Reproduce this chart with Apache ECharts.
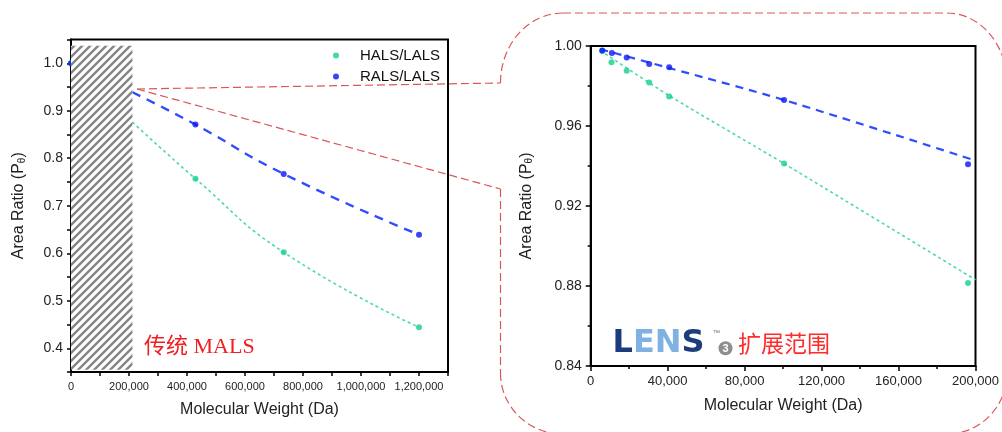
<!DOCTYPE html>
<html><head><meta charset="utf-8">
<script src="https://cdn.jsdelivr.net/npm/echarts@6/dist/echarts.min.js"></script>
<style>html,body{margin:0;padding:0;background:#fff}#c{width:1002px;height:432px}</style>
</head><body><div id="c"></div>
<script>
// ---------- data ----------
const seriesNames = ['HALS/LALS', 'RALS/LALS'];
const mainHals = [[0, 1.0], [429000, 0.757], [733600, 0.602], [1200000, 0.444]];
const mainRals = [[0, 1.0], [429000, 0.871], [733600, 0.767], [1200000, 0.639]];
const mainHalsFit = [[212000, 0.876], [429000, 0.757], [733600, 0.602], [1200000, 0.444]];
const mainRalsFit = [[212000, 0.939], [429000, 0.871], [733600, 0.767], [1200000, 0.639]];
const hatchRange = [[0, 0.355], [212000, 1.037]];
const zoomHals = [[6000, 0.9975], [10800, 0.9919], [18700, 0.9876], [30400, 0.9817], [40800, 0.9748], [100500, 0.9412], [196100, 0.8815]];
const zoomRals = [[6000, 0.9977], [11000, 0.9965], [18700, 0.9942], [30400, 0.9910], [40800, 0.9894], [100500, 0.9730], [196100, 0.9409]];
const zoomHalsFit = [[5000, 0.9978], [40800, 0.9752], [100500, 0.9412], [200000, 0.8831]];
const zoomRalsFit = [[5000, 0.9984], [40800, 0.9890], [100500, 0.9730], [200000, 0.9427]];
const xTitle = 'Molecular Weight (Da)';
const yTitle = 'Area Ratio (P{s|θ})';
const annoMain = '传统 MALS';
const annoZoom = '扩展范围';

// ---------- styling ----------
const GREEN = '#14cf8c', GREEN_LINE = '#4cdba6';
const BLUE = '#0a16f5', BLUE_LINE = '#2f4dff';
const RED = '#d9575a';
const TXT = '#222';
const FONT = '"Liberation Sans", Arial, sans-serif';

function makeHatch() {
  const s = 8;
  const c = document.createElement('canvas');
  c.width = s; c.height = s;
  const g = c.getContext('2d');
  g.fillStyle = '#ffffff'; g.fillRect(0, 0, s, s);
  g.strokeStyle = '#858585'; g.lineWidth = 2.4;
  g.beginPath();
  for (const k of [0, s, 2 * s]) { g.moveTo(k - s - 2, s + 2); g.lineTo(k + 2, -2); }
  g.stroke();
  return c;
}
const hatch = makeHatch();

const fmtNum = v => Math.round(v).toLocaleString('en-US');
const axisLineStyle = { color: '#000', width: 2 };
const yNameStyle = { fontSize: 16, color: TXT, fontFamily: FONT,
  rich: { s: { fontSize: 10, color: TXT, fontFamily: FONT, verticalAlign: 'bottom', padding: [7, 0, 0, 0] } } };

const chart = echarts.init(document.getElementById('c'), null, { renderer: 'canvas' });
const option = {
  animation: false,
  backgroundColor: '#fff',
  textStyle: { fontFamily: FONT },
  grid: [
    { left: 71, top: 39.5, width: 377, height: 332.5, show: true, borderColor: '#000', borderWidth: 2, backgroundColor: 'transparent' },
    { left: 590.7, top: 46, width: 388.6, height: 320, show: true, borderColor: '#000', borderWidth: 2, backgroundColor: 'transparent' }
  ],
  xAxis: [
    { gridIndex: 0, type: 'value', min: 0, max: 1300000, interval: 100000,
      axisLine: { lineStyle: axisLineStyle }, axisTick: { length: 4, lineStyle: { color: '#000', width: 1.5 } },
      splitLine: { show: false },
      axisLabel: { margin: 9, fontSize: 11, color: TXT, fontFamily: '"Liberation Sans Narrow", "Liberation Sans", Arial',
        formatter: v => (v % 200000 === 0 && v <= 1200000) ? fmtNum(v) : '' },
      name: xTitle, nameLocation: 'middle', nameGap: 30, nameTextStyle: { fontSize: 16, color: TXT } },
    { gridIndex: 1, type: 'value', min: 0, max: 200000, interval: 40000,
      axisLine: { lineStyle: axisLineStyle }, axisTick: { length: 5, lineStyle: { color: '#000', width: 1.5 } },
      minorTick: { show: true, splitNumber: 2, length: 3, lineStyle: { color: '#000', width: 1.5 } },
      splitLine: { show: false },
      axisLabel: { margin: 9, fontSize: 13, color: TXT, formatter: v => fmtNum(v) },
      name: xTitle, nameLocation: 'middle', nameGap: 32, nameTextStyle: { fontSize: 16, color: TXT } }
  ],
  yAxis: [
    { gridIndex: 0, type: 'value', min: 0.35, max: 1.05, interval: 0.05,
      axisLine: { lineStyle: axisLineStyle }, axisTick: { length: 4, lineStyle: { color: '#000', width: 1.5 } },
      splitLine: { show: false },
      axisLabel: { margin: 8, fontSize: 14, color: TXT,
        formatter: v => { const t = Math.round(v * 100); return (t % 10 === 0) ? (t / 100).toFixed(1) : ''; } },
      name: yTitle, nameLocation: 'middle', nameRotate: 90, nameGap: 44, nameTextStyle: yNameStyle },
    { gridIndex: 1, type: 'value', min: 0.84, max: 1.0, interval: 0.04,
      axisLine: { lineStyle: axisLineStyle }, axisTick: { length: 5, lineStyle: { color: '#000', width: 1.5 } },
      minorTick: { show: true, splitNumber: 2, length: 3, lineStyle: { color: '#000', width: 1.5 } },
      splitLine: { show: false },
      axisLabel: { margin: 9, fontSize: 14, color: TXT, formatter: v => v.toFixed(2) },
      name: yTitle, nameLocation: 'middle', nameRotate: 90, nameGap: 56, nameTextStyle: yNameStyle }
  ],
  legend: {
    data: [{ name: seriesNames[0], icon: 'circle' }, { name: seriesNames[1], icon: 'circle' }],
    orient: 'vertical', left: 328, top: 43, itemWidth: 20, itemHeight: 6, itemGap: 6,
    textStyle: { fontSize: 15, color: '#111', padding: [0, 0, 0, 9] }
  },
  series: [
    { name: 'fitH0', type: 'line', xAxisIndex: 0, yAxisIndex: 0, data: mainHalsFit, smooth: 0.5, symbol: 'none',
      lineStyle: { color: GREEN_LINE, width: 1.6, type: [3, 3] }, z: 2, silent: true },
    { name: 'fitR0', type: 'line', xAxisIndex: 0, yAxisIndex: 0, data: mainRalsFit, smooth: 0.5, symbol: 'none',
      lineStyle: { color: BLUE_LINE, width: 2.4, type: [9, 7] }, z: 2, silent: true },
    { name: seriesNames[0], type: 'scatter', xAxisIndex: 0, yAxisIndex: 0, data: mainHals, symbolSize: 6,
      itemStyle: { color: GREEN }, z: 3 },
    { name: seriesNames[1], type: 'scatter', xAxisIndex: 0, yAxisIndex: 0, data: mainRals, symbolSize: 6,
      itemStyle: { color: BLUE }, z: 3 },
    { name: 'hatch', type: 'line', xAxisIndex: 0, yAxisIndex: 0, data: [], z: 10, silent: true,
      markArea: { silent: true, z: 10, itemStyle: { color: { image: hatch, repeat: 'repeat' } },
        data: [[{ coord: hatchRange[0] }, { coord: hatchRange[1] }]] } },
    { name: 'fitH1', type: 'line', xAxisIndex: 1, yAxisIndex: 1, data: zoomHalsFit, smooth: 0.3, symbol: 'none',
      lineStyle: { color: GREEN_LINE, width: 1.6, type: [3, 3] }, z: 2, silent: true },
    { name: 'fitR1', type: 'line', xAxisIndex: 1, yAxisIndex: 1, data: zoomRalsFit, smooth: 0.3, symbol: 'none',
      lineStyle: { color: BLUE_LINE, width: 2.2, type: [8, 6] }, z: 2, silent: true },
    { name: seriesNames[0], type: 'scatter', xAxisIndex: 1, yAxisIndex: 1, data: zoomHals, symbolSize: 6,
      itemStyle: { color: GREEN }, z: 3 },
    { name: seriesNames[1], type: 'scatter', xAxisIndex: 1, yAxisIndex: 1, data: zoomRals, symbolSize: 6,
      itemStyle: { color: BLUE }, z: 3 }
  ],
  graphic: { elements: [
    // callout outline
    { type: 'line', z: 100, silent: true, shape: { x1: 137, y1: 89, x2: 500.5, y2: 83 }, style: { stroke: RED, lineWidth: 1.2, lineDash: [8, 4] } },
    { type: 'line', z: 100, silent: true, shape: { x1: 137, y1: 89, x2: 500.5, y2: 189 }, style: { stroke: RED, lineWidth: 1.2, lineDash: [8, 4] } },
    { type: 'bezierCurve', z: 100, silent: true, shape: { x1: 500.5, y1: 83, cpx1: 500.5, cpy1: 44.4, cpx2: 528.2, cpy2: 13, x2: 563, y2: 13 }, style: { stroke: RED, fill: null, lineWidth: 1.2, lineDash: [8, 4] } },
    { type: 'line', z: 100, silent: true, shape: { x1: 563, y1: 13, x2: 947, y2: 13 }, style: { stroke: RED, lineWidth: 1.2, lineDash: [8, 4] } },
    { type: 'bezierCurve', z: 100, silent: true, shape: { x1: 947, y1: 13, cpx1: 980, cpy1: 13, cpx2: 1007, cpy2: 44.4, x2: 1007, y2: 83 }, style: { stroke: RED, fill: null, lineWidth: 1.2, lineDash: [8, 4] } },
    { type: 'bezierCurve', z: 100, silent: true, shape: { x1: 1007, y1: 373, cpx1: 1007, cpy1: 406.7, cpx2: 980, cpy2: 434, x2: 947, y2: 434 }, style: { stroke: RED, fill: null, lineWidth: 1.2, lineDash: [8, 4] } },
    { type: 'line', z: 100, silent: true, shape: { x1: 500.5, y1: 189, x2: 500.5, y2: 373 }, style: { stroke: RED, lineWidth: 1.2, lineDash: [8, 4] } },
    { type: 'bezierCurve', z: 100, silent: true, shape: { x1: 500.5, y1: 373, cpx1: 500.5, cpy1: 406.7, cpx2: 528.2, cpy2: 434, x2: 563, y2: 434 }, style: { stroke: RED, fill: null, lineWidth: 1.2, lineDash: [8, 4] } },
    // annotations
    { type: 'text', z: 100, silent: true, x: 144, y: 347, style: { text: annoMain, fontSize: 22, fontFamily: '"Liberation Serif", "Noto Sans CJK SC", serif', fill: '#f01e23', verticalAlign: 'middle' } },
    { type: 'text', z: 100, silent: true, x: 612.5, y: 344, style: {
        text: '{d|L}{l|EN}{d|S}', verticalAlign: 'middle',
        rich: { d: { fontSize: 32, fontWeight: 'bold', fontFamily: '"DejaVu Sans"', fill: '#1c3d7c' },
                l: { fontSize: 32, fontWeight: 'bold', fontFamily: '"DejaVu Sans"', fill: '#7fb2e3' } } } },
    { type: 'text', z: 100, silent: true, x: 713, y: 333, style: { text: '™', fontSize: 7, fill: '#666', verticalAlign: 'middle' } },
    { type: 'circle', z: 100, silent: true, shape: { cx: 725.5, cy: 348.3, r: 7 }, style: { fill: '#8e8e8e' } },
    { type: 'text', z: 101, silent: true, x: 725.5, y: 348.8, style: { text: '3', fontSize: 11, fontWeight: 'bold', fill: '#fff', align: 'center', verticalAlign: 'middle' } },
    { type: 'text', z: 100, silent: true, x: 738, y: 343, style: { text: annoZoom, fontSize: 23, fontFamily: '"Noto Sans CJK SC"', fill: '#ff2a2a', verticalAlign: 'middle' } }
  ] }
};
chart.setOption(option);
</script>
</body></html>
